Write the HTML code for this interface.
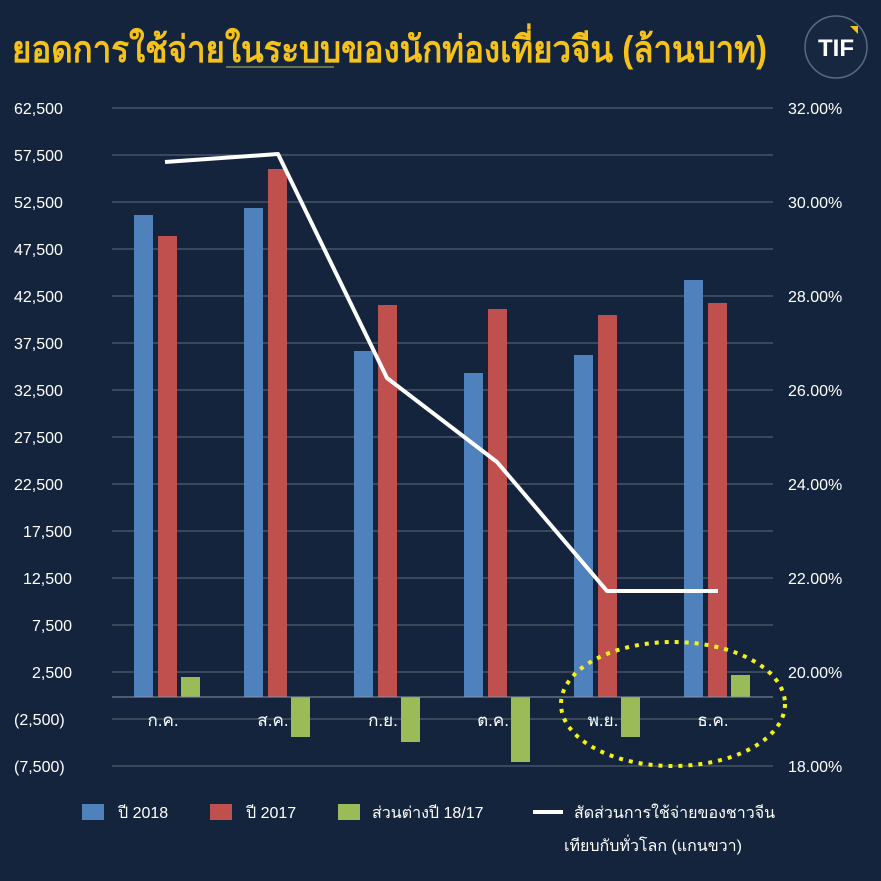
<!DOCTYPE html>
<html><head><meta charset="utf-8"><style>
html,body{margin:0;padding:0;background:#14243c;}
svg{display:block;font-family:"Liberation Sans","Noto Sans CJK SC",sans-serif;}
</style></head><body>
<svg width="881" height="881" viewBox="0 0 881 881" xmlns="http://www.w3.org/2000/svg">
<rect width="881" height="881" fill="#14243c"/>
<text x="12" y="62" font-size="37" font-weight="bold" fill="#f4c21a" textLength="755" lengthAdjust="spacingAndGlyphs">ยอดการใช้จ่ายในระบบของนักท่องเที่ยวจีน (ล้านบาท)</text>
<line x1="226" y1="67" x2="334" y2="67" stroke="#8a8a5a" stroke-width="1.5"/>
<circle cx="836" cy="47" r="31" fill="#16273f" stroke="#5a6a80" stroke-width="1.5"/>
<text x="836" y="56" font-size="24" font-weight="bold" fill="#fff" text-anchor="middle">TIF</text>
<polygon points="850,26 858,26 858,34" fill="#f4c21a"/>
<g stroke="#5f6b7c" stroke-width="1">
<line x1="112" y1="108" x2="773" y2="108"/><line x1="112" y1="155" x2="773" y2="155"/>
<line x1="112" y1="202" x2="773" y2="202"/><line x1="112" y1="249" x2="773" y2="249"/>
<line x1="112" y1="296" x2="773" y2="296"/><line x1="112" y1="343" x2="773" y2="343"/>
<line x1="112" y1="390" x2="773" y2="390"/><line x1="112" y1="437" x2="773" y2="437"/>
<line x1="112" y1="484" x2="773" y2="484"/><line x1="112" y1="531" x2="773" y2="531"/>
<line x1="112" y1="578" x2="773" y2="578"/><line x1="112" y1="625" x2="773" y2="625"/>
<line x1="112" y1="672" x2="773" y2="672"/><line x1="112" y1="719" x2="773" y2="719"/>
<line x1="112" y1="766" x2="773" y2="766"/>
</g>
<g font-size="16" fill="#fff">
<text x="14" y="114">62,500</text><text x="14" y="161">57,500</text><text x="14" y="208">52,500</text>
<text x="14" y="255">47,500</text><text x="14" y="302">42,500</text><text x="14" y="349">37,500</text>
<text x="14" y="396">32,500</text><text x="14" y="443">27,500</text><text x="14" y="490">22,500</text>
<text x="23" y="537">17,500</text><text x="23" y="584">12,500</text><text x="32" y="631">7,500</text>
<text x="32" y="678">2,500</text><text x="14" y="725">(2,500)</text><text x="14" y="772">(7,500)</text>
<text x="788" y="114">32.00%</text><text x="788" y="208">30.00%</text><text x="788" y="302">28.00%</text>
<text x="788" y="396">26.00%</text><text x="788" y="490">24.00%</text><text x="788" y="584">22.00%</text>
<text x="788" y="678">20.00%</text><text x="788" y="772">18.00%</text>
</g>
<g fill="#4f81bd">
<rect x="134" y="215" width="19" height="482"/><rect x="244" y="208" width="19" height="489"/>
<rect x="354" y="351" width="19" height="346"/><rect x="464" y="373" width="19" height="324"/>
<rect x="574" y="355" width="19" height="342"/><rect x="684" y="280" width="19" height="417"/>
</g>
<g fill="#c0504d">
<rect x="158" y="236" width="19" height="461"/><rect x="268" y="169" width="19" height="528"/>
<rect x="378" y="305" width="19" height="392"/><rect x="488" y="309" width="19" height="388"/>
<rect x="598" y="315" width="19" height="382"/><rect x="708" y="303" width="19" height="394"/>
</g>
<g fill="#9bbb59">
<rect x="181" y="677" width="19" height="20"/><rect x="291" y="697" width="19" height="40"/>
<rect x="401" y="697" width="19" height="45"/><rect x="511" y="697" width="19" height="65"/>
<rect x="621" y="697" width="19" height="40"/><rect x="731" y="675" width="19" height="22"/>
</g>
<line x1="112" y1="697" x2="773" y2="697" stroke="#8a94a3" stroke-width="1"/>
<g font-size="17" fill="#fff" text-anchor="middle">
<text x="163" y="726">ก.ค.</text><text x="273" y="726">ส.ค.</text><text x="383" y="726">ก.ย.</text>
<text x="493" y="726">ต.ค.</text><text x="603" y="726">พ.ย.</text><text x="713" y="726">ธ.ค.</text>
</g>
<polyline points="165,162 278,154 387,378 497,462 607,591 718,591" fill="none" stroke="#fff" stroke-width="4" stroke-linejoin="round"/>
<ellipse cx="673" cy="704" rx="112" ry="62" fill="none" stroke="#f2f21a" stroke-width="4" stroke-dasharray="4,6"/>
<rect x="82" y="804" width="22" height="16" fill="#4f81bd"/>
<text x="118" y="818" font-size="16" fill="#fff">ปี 2018</text>
<rect x="210" y="804" width="22" height="16" fill="#c0504d"/>
<text x="246" y="818" font-size="16" fill="#fff">ปี 2017</text>
<rect x="338" y="804" width="22" height="16" fill="#9bbb59"/>
<text x="372" y="818" font-size="16" fill="#fff">ส่วนต่างปี 18/17</text>
<line x1="533" y1="812" x2="563" y2="812" stroke="#fff" stroke-width="4"/>
<text x="574" y="818" font-size="16" fill="#fff">สัดส่วนการใช้จ่ายของชาวจีน</text>
<text x="564" y="851" font-size="16" fill="#fff">เทียบกับทั่วโลก (แกนขวา)</text>
</svg>
</body></html>
